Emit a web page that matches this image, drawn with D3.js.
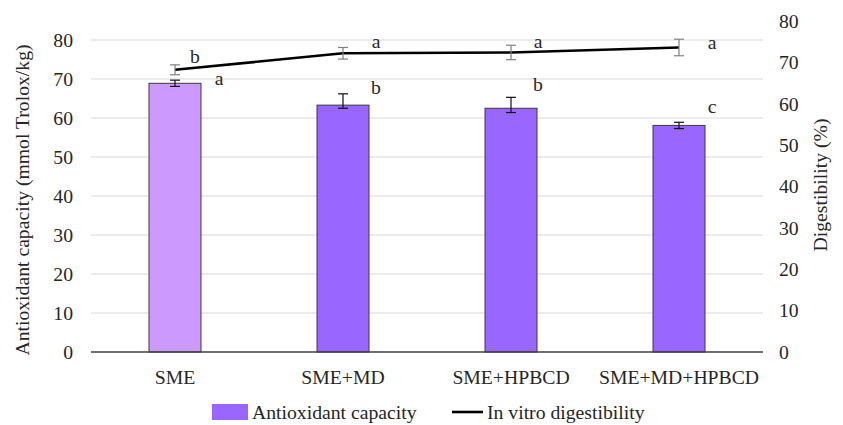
<!DOCTYPE html>
<html>
<head>
<meta charset="utf-8">
<script src="https://cdn.jsdelivr.net/npm/d3@7"></script>
<style>
    body { margin: 0; background: #fff; }
    text { font-family: "Liberation Serif", "Times New Roman", serif; fill: #262626; }
</style>
</head>
<body>
<div id="chart"></div>
<script>
// data
var categories = ["SME", "SME+MD", "SME+HPBCD", "SME+MD+HPBCD"];
var antioxidant = [68.9, 63.3, 62.5, 58.1];
var antioxidantErrUp = [0.8, 2.9, 2.8, 0.8];
var antioxidantErrDown = [0.8, 0.8, 1.1, 0.8];
var antioxidantLetters = ["a", "b", "b", "c"];
var digestibility = [68.2, 72.2, 72.4, 73.6];
var digestibilityErr = [1.2, 1.4, 1.75, 2.0];
var digestibilityLetters = ["b", "a", "a", "a"];
var leftTicks = [0, 10, 20, 30, 40, 50, 60, 70, 80];
var rightTicks = [0, 10, 20, 30, 40, 50, 60, 70, 80];
var barColors = ["#cc99ff", "#9966ff", "#9966ff", "#9966ff"];

// small nudges for the significance letters (layout only)
var barLetterNudge = [[44, 5], [33, 0], [27, -6], [33, -9]];
var lineLetterNudge = [[20, -2], [33, 1], [27, 3], [33, 10]];

var width = 843,
    height = 425;
var fontSize = "19.7px";

var svg = d3.select("#chart")
    .append("svg")
    .attr("width", width)
    .attr("height", height);

var x = d3.scaleBand()
    .domain(categories)
    .range([91, 763]);

var yLeft = d3.scaleLinear()
    .domain([0, 80])
    .range([352, 40]);

var yRight = d3.scaleLinear()
    .domain([0, 80])
    .range([352, 21]);

var barWidth = 52;

// gridlines
svg.append("g")
    .selectAll("line")
    .data(leftTicks.filter(function (d) { return d > 0; }))
    .enter().append("line")
    .attr("x1", x.range()[0])
    .attr("x2", x.range()[1])
    .attr("y1", function (d) { return yLeft(d); })
    .attr("y2", function (d) { return yLeft(d); })
    .attr("stroke", "#d9d9d9")
    .attr("stroke-width", 1);

// left axis labels
var leftAxis = d3.axisLeft(yLeft).tickValues(leftTicks).tickSize(0).tickPadding(0);
var gLeft = svg.append("g")
    .attr("transform", "translate(73,0)")
    .call(leftAxis);
gLeft.select(".domain").remove();
gLeft.selectAll("text")
    .style("font-size", fontSize)
    .attr("fill", "#262626");

// right axis labels
var rightAxis = d3.axisRight(yRight).tickValues(rightTicks).tickSize(0).tickPadding(0);
var gRight = svg.append("g")
    .attr("transform", "translate(779,0)")
    .call(rightAxis);
gRight.select(".domain").remove();
gRight.selectAll("text")
    .style("font-size", fontSize)
    .attr("fill", "#262626");

// bars
svg.append("g")
    .selectAll("rect")
    .data(antioxidant)
    .enter().append("rect")
    .attr("x", function (d, i) { return x(categories[i]) + x.bandwidth() / 2 - barWidth / 2; })
    .attr("y", function (d) { return yLeft(d); })
    .attr("width", barWidth)
    .attr("height", function (d) { return yLeft(0) - yLeft(d); })
    .attr("fill", function (d, i) { return barColors[i]; })
    .attr("stroke", "#3a3a3a")
    .attr("stroke-width", 1);

// x axis baseline
svg.append("line")
    .attr("x1", x.range()[0])
    .attr("x2", x.range()[1])
    .attr("y1", yLeft(0))
    .attr("y2", yLeft(0))
    .attr("stroke", "#404040")
    .attr("stroke-width", 1.3);

// bar error bars
var gBarErr = svg.append("g").attr("stroke", "#111").attr("stroke-width", 1.2);
antioxidant.forEach(function (d, i) {
    var cx = x(categories[i]) + x.bandwidth() / 2;
    var top = yLeft(d + antioxidantErrUp[i]),
        bottom = yLeft(d - antioxidantErrDown[i]);
    gBarErr.append("line").attr("x1", cx).attr("x2", cx).attr("y1", top).attr("y2", bottom);
    gBarErr.append("line").attr("x1", cx - 5).attr("x2", cx + 5).attr("y1", top).attr("y2", top);
    gBarErr.append("line").attr("x1", cx - 5).attr("x2", cx + 5).attr("y1", bottom).attr("y2", bottom);
});

// digestibility line
var line = d3.line()
    .x(function (d, i) { return x(categories[i]) + x.bandwidth() / 2; })
    .y(function (d) { return yRight(d); });

svg.append("path")
    .datum(digestibility)
    .attr("d", line)
    .attr("fill", "none")
    .attr("stroke", "#000")
    .attr("stroke-width", 2.6);

// line error bars
var gLineErr = svg.append("g").attr("stroke", "#7f7f7f").attr("stroke-width", 1.2);
digestibility.forEach(function (d, i) {
    var cx = x(categories[i]) + x.bandwidth() / 2;
    var top = yRight(d + digestibilityErr[i]),
        bottom = yRight(d - digestibilityErr[i]);
    gLineErr.append("line").attr("x1", cx).attr("x2", cx).attr("y1", top).attr("y2", bottom);
    gLineErr.append("line").attr("x1", cx - 5).attr("x2", cx + 5).attr("y1", top).attr("y2", top);
    gLineErr.append("line").attr("x1", cx - 5).attr("x2", cx + 5).attr("y1", bottom).attr("y2", bottom);
});

// significance letters
svg.append("g")
    .selectAll("text")
    .data(antioxidantLetters)
    .enter().append("text")
    .attr("x", function (d, i) { return x(categories[i]) + x.bandwidth() / 2 + barLetterNudge[i][0]; })
    .attr("y", function (d, i) { return yLeft(antioxidant[i] + antioxidantErrUp[i]) + barLetterNudge[i][1]; })
    .attr("text-anchor", "middle")
    .style("font-size", fontSize)
    .text(function (d) { return d; });

svg.append("g")
    .selectAll("text")
    .data(digestibilityLetters)
    .enter().append("text")
    .attr("x", function (d, i) { return x(categories[i]) + x.bandwidth() / 2 + lineLetterNudge[i][0]; })
    .attr("y", function (d, i) { return yRight(digestibility[i] + digestibilityErr[i]) + lineLetterNudge[i][1]; })
    .attr("text-anchor", "middle")
    .style("font-size", fontSize)
    .text(function (d) { return d; });

// category labels
svg.append("g")
    .selectAll("text")
    .data(categories)
    .enter().append("text")
    .attr("x", function (d) { return x(d) + x.bandwidth() / 2; })
    .attr("y", 384)
    .attr("text-anchor", "middle")
    .style("font-size", fontSize)
    .text(function (d) { return d; });

// axis titles
svg.append("text")
    .attr("transform", "translate(29,200) rotate(-90)")
    .attr("text-anchor", "middle")
    .style("font-size", fontSize)
    .text("Antioxidant capacity (mmol Trolox/kg)");

svg.append("text")
    .attr("transform", "translate(827,185) rotate(-90)")
    .attr("text-anchor", "middle")
    .style("font-size", fontSize)
    .text("Digestibility (%)");

// legend
var gLegend = svg.append("g");
gLegend.append("rect")
    .attr("x", 212).attr("y", 404)
    .attr("width", 36).attr("height", 16)
    .attr("fill", barColors[1]);
gLegend.append("text")
    .attr("x", 252).attr("y", 419)
    .style("font-size", fontSize)
    .text("Antioxidant capacity");
gLegend.append("line")
    .attr("x1", 452).attr("x2", 483)
    .attr("y1", 412).attr("y2", 412)
    .attr("stroke", "#000").attr("stroke-width", 2.6);
gLegend.append("text")
    .attr("x", 487).attr("y", 419)
    .style("font-size", fontSize)
    .text("In vitro digestibility");
</script>
</body>
</html>
